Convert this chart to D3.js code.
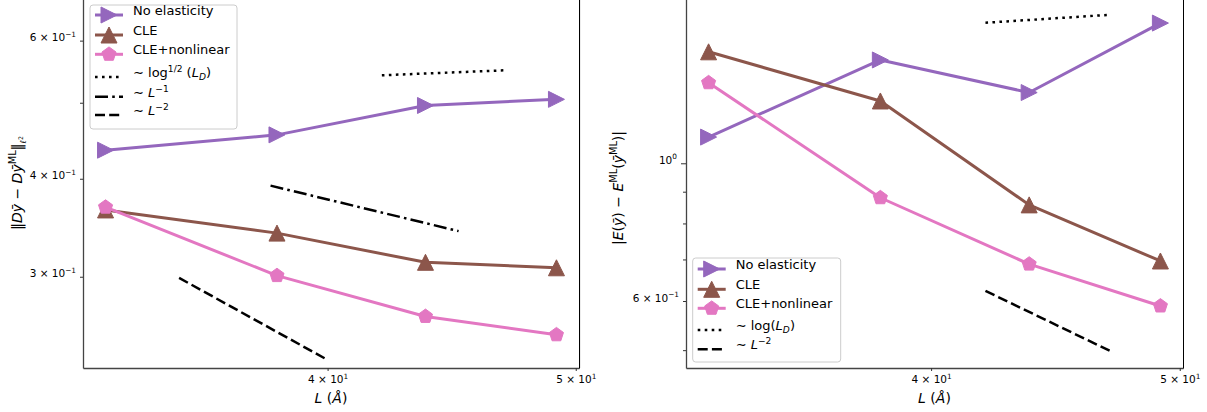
<!DOCTYPE html>
<html>
<head>
<meta charset="utf-8">
<script src="https://cdn.jsdelivr.net/npm/d3@7"></script>
<style>
  body { margin: 0; background: #fff; }
  text { font-family: "DejaVu Sans", sans-serif; fill: #000; }
</style>
</head>
<body>
<svg id="fig" width="1207" height="412"></svg>
<script>
// system sizes (Angstrom)
const L = [32.76, 38.22, 43.68, 49.14];

// left panel: gradient error
const gradNoElastic = [0.435, 0.455, 0.496, 0.505];
const gradCLE       = [0.365, 0.341, 0.313, 0.308];
const gradCLENonlin = [0.368, 0.301, 0.267, 0.253];
// guide lines (end points)
const gradRefLogL = [42.0, 46.95], gradRefLogV = [0.542, 0.550];
const gradRefL1L  = [38.0, 45.0],  gradRefL1V  = [0.392, 0.343];
const gradRefL2L  = [35.0, 40.0],  gradRefL2V  = [0.299, 0.235];

// right panel: energy error
const enNoElastic = [1.102, 1.467, 1.300, 1.682];
const enCLE       = [1.512, 1.260, 0.857, 0.696];
const enCLENonlin = [1.348, 0.880, 0.688, 0.589];
const enRefLogL = [42.0, 47.0], enRefLogV = [1.684, 1.735];
const enRefL2L  = [42.0, 47.0], enRefL2V  = [0.623, 0.498];

const xTicks = [40, 50];
const gradYTicks = [0.3, 0.4, 0.5, 0.6], gradYLabels = [0.3, 0.4, 0.6];
const enYTicks = [0.5, 0.6, 0.7, 0.8, 0.9, 1], enYLabels = [0.6, 1];

const colors = { none: "#9467bd", cle: "#8c564b", nonlin: "#e377c2" };

const svg = d3.select("#fig");

// matplotlib-like 5% margins on a log axis
const lx = L.map(Math.log10);
const pad = (d3.max(lx) - d3.min(lx)) * 0.05;
const xDomain = [Math.pow(10, d3.min(lx) - pad), Math.pow(10, d3.max(lx) + pad)];

const tri = s => `M0,${-s}L${s},${s}L${-s},${s}Z`;
const triR = s => `M${s},0L${-s},${s}L${-s},${-s}Z`;
const penta = r => d3.range(5).map(k => {
  const a = (-90 + k * 72) * Math.PI / 180;
  return (k ? "L" : "M") + (r * Math.cos(a)).toFixed(2) + "," + (r * Math.sin(a)).toFixed(2);
}).join("") + "Z";
const markers = { ">": triR(8), "^": tri(8), "p": penta(7.4) };
const dashes = { ":": "2.6,4.4", "-.": "13,4.2,2.6,4.2", "--": "10,4.2" };

// rich text: parts {t, it, size (rel), shift (em, up)}
function rich(text, parts, fs) {
  let cur = 0;
  parts.forEach(p => {
    const sh = (p.shift || 0) * fs;
    const ts = text.append("tspan").attr("dy", cur - sh).text(p.t);
    cur = sh;
    if (p.size) ts.attr("font-size", fs * p.size);
    if (p.it) ts.attr("font-style", "italic");
  });
}

function sciParts(v) {
  const e = Math.floor(Math.log10(v) + 1e-9);
  const m = Math.round(v / Math.pow(10, e));
  return [{ t: m === 1 ? "10" : m + " \u00d7 10" },
          { t: e < 0 ? "\u2212" + (-e) : String(e), size: 0.7, shift: 0.42 }];
}

function drawPanel(p) {
  const g = svg.append("g");
  const x = d3.scaleLog().domain(xDomain).range([p.left, p.right]);
  const y = d3.scaleLog().domain(p.yLim).range([p.bottom, p.top]);

  // series
  const line = d3.line().x(d => x(d[0])).y(d => y(d[1]));
  p.series.forEach(s => {
    const pts = d3.zip(L, s.values);
    g.append("path").datum(pts).attr("d", line)
      .attr("fill", "none").attr("stroke", s.color).attr("stroke-width", 3)
      .attr("stroke-linejoin", "round");
    g.append("g").selectAll("path").data(pts).join("path")
      .attr("transform", d => `translate(${x(d[0])},${y(d[1])})`)
      .attr("d", markers[s.marker])
      .attr("fill", s.color).attr("stroke", s.color).attr("stroke-width", 1);
  });
  p.guides.forEach(r => {
    g.append("path").datum(d3.zip(r.xs, r.ys)).attr("d", line)
      .attr("fill", "none").attr("stroke", "#000").attr("stroke-width", 2.5)
      .attr("stroke-dasharray", dashes[r.style]);
  });

  // axes
  const xa = g.append("g").attr("transform", `translate(0,${p.bottom})`)
    .call(d3.axisBottom(x).tickValues(xTicks).tickSize(3).tickSizeOuter(0).tickFormat(""));
  xa.selectAll(".tick text").each(function(d) {
    const t = d3.select(this).attr("y", 15).attr("dy", null).attr("font-size", 10.5);
    rich(t, sciParts(d), 10.5);
  });

  const ya = g.append("g").attr("transform", `translate(${p.left},0)`)
    .call(d3.axisLeft(y).tickValues(p.yTicks).tickSize(3).tickSizeOuter(0).tickFormat(""));
  ya.selectAll(".tick line").attr("x2", d => p.major.includes(d) ? -5 : -3);
  ya.selectAll(".tick text").each(function(d) {
    const t = d3.select(this).attr("font-size", 10.5).attr("dy", "0.35em")
      .attr("x", p.major.includes(d) ? -9 : -7);
    if (p.yLabels.includes(d)) rich(t, sciParts(d), 10.5);
  });
  [xa, ya].forEach(a => {
    a.select(".domain").attr("stroke", "#444").attr("stroke-width", 1.3);
    a.selectAll(".tick line").attr("stroke", "#333");
  });
  g.append("line").attr("x1", p.right + 0.5).attr("x2", p.right + 0.5)
    .attr("y1", p.top).attr("y2", p.bottom + 0.5).attr("stroke", "#000").attr("stroke-width", 1);

  // axis labels
  const xl = g.append("text").attr("x", (p.left + p.right) / 2).attr("y", 403)
    .attr("text-anchor", "middle").attr("font-size", 14);
  rich(xl, [{ t: "L", it: true }, { t: " (" }, { t: "\u00c5", it: true }, { t: ")" }], 14);
  const yl = g.append("text")
    .attr("transform", `translate(${p.ylabX},${p.ylabY}) rotate(-90)`)
    .attr("text-anchor", "middle").attr("font-size", 14);
  rich(yl, p.ylabel, 14);

  // legend
  const lg = g.append("g").attr("transform", `translate(${p.legend.x},${p.legend.y})`);
  lg.append("rect").attr("width", p.legend.w).attr("height", p.legend.h)
    .attr("rx", 3).attr("fill", "#fff").attr("fill-opacity", 0.8)
    .attr("stroke", "#ccc").attr("stroke-width", 1);
  p.legend.items.forEach((it, i) => {
    const ry = p.legend.rows[i];
    if (it.series) {
      lg.append("line").attr("x1", 5).attr("x2", 33).attr("y1", ry).attr("y2", ry)
        .attr("stroke", it.series.color).attr("stroke-width", 3);
      lg.append("path").attr("transform", `translate(19,${ry})`).attr("d", markers[it.series.marker])
        .attr("fill", it.series.color).attr("stroke", it.series.color).attr("stroke-width", 1);
    } else {
      lg.append("line").attr("x1", 5).attr("x2", 33).attr("y1", ry).attr("y2", ry)
        .attr("stroke", "#000").attr("stroke-width", 2.5).attr("stroke-dasharray", dashes[it.style]);
    }
    const t = lg.append("text").attr("x", 43).attr("y", ry).attr("dy", "0.36em").attr("font-size", 13);
    rich(t, it.parts, 13);
  });
}

const sNone = (v) => ({ color: colors.none, marker: ">", values: v });
const sCLE = (v) => ({ color: colors.cle, marker: "^", values: v });
const sNon = (v) => ({ color: colors.nonlin, marker: "p", values: v });

const leftSeries = [sNone(gradNoElastic), sCLE(gradCLE), sNon(gradCLENonlin)];
const rightSeries = [sNone(enNoElastic), sCLE(enCLE), sNon(enCLENonlin)];

const txt = t => ({ t: t });
const itx = t => ({ t: t, it: true });
const sup = t => ({ t: t, size: 0.7, shift: 0.4 });
const sub = (t, it) => ({ t: t, size: 0.7, shift: -0.22, it: it });

const names = [[txt("No elasticity")], [txt("CLE")], [txt("CLE+nonlinear")]];
const logHalf = [txt("\u223c log"), sup("1/2"), txt(" ("), itx("L"), sub("D", true), txt(")")];
const logOne = [txt("\u223c log("), itx("L"), sub("D", true), txt(")")];
const invL1 = [txt("\u223c "), itx("L"), sup("\u22121")];
const invL2 = [txt("\u223c "), itx("L"), sup("\u22122")];

// seam between the two sub-figures
svg.append("line").attr("x1", 580.5).attr("x2", 580.5).attr("y1", 0).attr("y2", 368)
  .attr("stroke", "#ececec").attr("stroke-width", 1);

drawPanel({
  left: 83, right: 579, top: -2, bottom: 368,
  yLim: [0.2295, 0.680], yTicks: gradYTicks, yLabels: gradYLabels, major: [],
  series: leftSeries,
  guides: [
    { xs: gradRefLogL, ys: gradRefLogV, style: ":" },
    { xs: gradRefL1L, ys: gradRefL1V, style: "-." },
    { xs: gradRefL2L, ys: gradRefL2V, style: "--" }
  ],
  ylabX: 22, ylabY: 183,
  ylabel: [txt("\u2016"), itx("D"), itx("\u0233"), txt(" \u2212 "), itx("D"), itx("\u0233"),
           { t: "ML", size: 0.7, shift: 0.45 }, txt("\u2016"),
           { t: "\u2113", size: 0.6, shift: -0.3, it: true }, { t: "2", size: 0.45, shift: -0.05 }],
  legend: {
    x: 90, y: 5, w: 147, h: 124, rows: [10, 30, 49.3, 72, 91.7, 110],
    items: [
      { series: leftSeries[0], parts: names[0] },
      { series: leftSeries[1], parts: names[1] },
      { series: leftSeries[2], parts: names[2] },
      { style: ":", parts: logHalf },
      { style: "-.", parts: invL1 },
      { style: "--", parts: invL2 }
    ]
  }
});

drawPanel({
  left: 686, right: 1183, top: -2, bottom: 368,
  yLim: [0.468, 1.846], yTicks: enYTicks, yLabels: enYLabels, major: [1],
  series: rightSeries,
  guides: [
    { xs: enRefLogL, ys: enRefLogV, style: ":" },
    { xs: enRefL2L, ys: enRefL2V, style: "--" }
  ],
  ylabX: 623, ylabY: 188,
  ylabel: [txt("|"), itx("E"), txt("("), itx("\u0233"), txt(")"), txt(" \u2212 "), itx("E"),
           { t: "ML", size: 0.7, shift: 0.45 }, txt("("), itx("\u0233"),
           { t: "ML", size: 0.7, shift: 0.45 }, txt(")"), txt("|")],
  legend: {
    x: 692.7, y: 258, w: 148, h: 104, rows: [11, 31.3, 50.3, 72, 91.3],
    items: [
      { series: rightSeries[0], parts: names[0] },
      { series: rightSeries[1], parts: names[1] },
      { series: rightSeries[2], parts: names[2] },
      { style: ":", parts: logOne },
      { style: "--", parts: invL2 }
    ]
  }
});
</script>
</body>
</html>
